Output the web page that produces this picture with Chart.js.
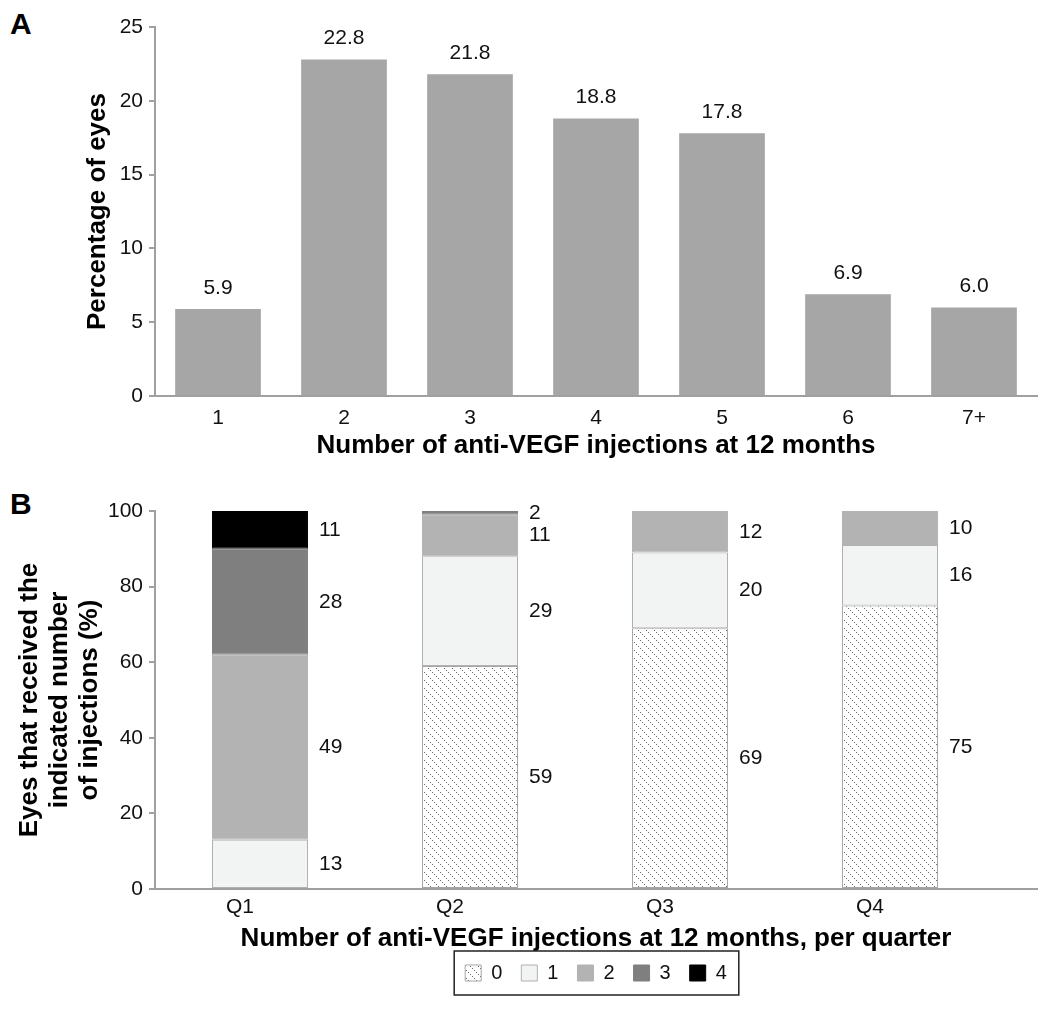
<!DOCTYPE html>
<html>
<head>
<meta charset="utf-8">
<script src="https://cdn.jsdelivr.net/npm/chart.js@4.4.0/dist/chart.umd.min.js"></script>
<style>
  body { margin: 0; background: #fff; width: 1039px; height: 1011px; position: relative; overflow: hidden;
         font-family: "Liberation Sans", Arial, sans-serif; }
  .panneau { position: absolute; left: 10px; font-weight: bold; font-size: 30px; line-height: 1; color: #000; }
  #blocA { position: absolute; left: 0; top: 0; }
  #blocB { position: absolute; left: 0; top: 480px; }
</style>
</head>
<body>
<div class="panneau" style="top:9px">A</div>
<div class="panneau" style="top:489px">B</div>
<div id="blocA"><canvas id="chartA" width="1039" height="470"></canvas></div>
<div id="blocB"><canvas id="chartB" width="1039" height="531"></canvas></div>
<script>
// ── Données : panneau A ──
const INJECTIONS = ['1', '2', '3', '4', '5', '6', '7+'];
const PCT_YEUX = [5.9, 22.8, 21.8, 18.8, 17.8, 6.9, 6.0];
const TICKS_A = [0, 5, 10, 15, 20, 25];

// ── Données : panneau B (une série par nombre d'injections) ──
const TRIMESTRES = ['Q1', 'Q2', 'Q3', 'Q4'];
const INJ_0 = [0, 59, 69, 75];
const INJ_1 = [13, 29, 20, 16];
const INJ_2 = [49, 11, 12, 10];
const INJ_3 = [28, 2, 0, 0];
const INJ_4 = [11, 0, 0, 0];
const NOMS_SERIES = ['0', '1', '2', '3', '4'];
const TICKS_B = [0, 20, 40, 60, 80, 100];

const POLICE = '"Liberation Sans", Arial, sans-serif';
const GRIS_AXE = '#a0a0a0';
Chart.defaults.font.family = POLICE;
Chart.defaults.color = '#111';

// ── Motif hachuré pointillé pour la série "0" ──
function motifHachure(ctx) {
    const c = document.createElement('canvas');
    c.width = 8; c.height = 8;
    const g = c.getContext('2d');
    g.fillStyle = '#ffffff';
    g.fillRect(0, 0, 8, 8);
    g.fillStyle = '#666666';
    for (let i = 0; i < 8; i += 2) g.fillRect(i, i, 1, 1);
    return ctx.createPattern(c, 'repeat');
}

// ── Étiquettes au-dessus des barres (A) ──
const etiquettesA = {
    id: 'etiquettesA',
    afterDatasetsDraw(chart) {
        const ctx = chart.ctx;
        ctx.save();
        ctx.font = '21px ' + POLICE;
        ctx.fillStyle = '#111';
        ctx.textAlign = 'center';
        ctx.textBaseline = 'middle';
        chart.getDatasetMeta(0).data.forEach((bar, i) => {
            ctx.fillText(PCT_YEUX[i].toFixed(1), bar.x, bar.y - 21);
        });
        ctx.restore();
    }
};

// ── Étiquettes à droite des segments (B) ──
const etiquettesB = {
    id: 'etiquettesB',
    afterDatasetsDraw(chart) {
        const ctx = chart.ctx;
        const haut = chart.chartArea.top;
        ctx.save();
        ctx.font = '21px ' + POLICE;
        ctx.fillStyle = '#111';
        ctx.textAlign = 'left';
        ctx.textBaseline = 'middle';
        chart.data.datasets.forEach((ds, k) => {
            chart.getDatasetMeta(k).data.forEach((bar, i) => {
                const v = ds.data[i].y;
                if (!v) return;
                const y1 = Math.max(bar.y, haut);
                ctx.fillText(String(v), bar.x + bar.width / 2 + 11, (y1 + bar.base) / 2);
            });
        });
        ctx.restore();
    }
};

// ── Cadre autour de la légende (B) ──
const cadreLegende = {
    id: 'cadreLegende',
    afterDraw(chart) {
        const boites = chart.legend.legendHitBoxes;
        if (!boites || !boites.length) return;
        const gauche = boites[0].left - 11;
        const dernier = boites[boites.length - 1];
        const droite = dernier.left + dernier.width + 12;
        const milieu = boites[0].top + boites[0].height / 2;
        const ctx = chart.ctx;
        ctx.save();
        ctx.strokeStyle = '#222';
        ctx.lineWidth = 1.5;
        ctx.strokeRect(gauche, milieu - 22, droite - gauche, 44);
        ctx.restore();
    }
};

// ============================================
// Panneau A
// ============================================
new Chart(document.getElementById('chartA'), {
    type: 'bar',
    data: {
        labels: INJECTIONS,
        datasets: [{
            data: PCT_YEUX,
            backgroundColor: '#a6a6a6',
            categoryPercentage: 1,
            barPercentage: 0.68
        }]
    },
    options: {
        responsive: false,
        animation: false,
        layout: { padding: { top: 27, right: 2, bottom: 0, left: 0 } },
        plugins: { legend: { display: false }, tooltip: { enabled: false } },
        scales: {
            x: {
                grid: { display: false, drawTicks: false },
                border: { color: GRIS_AXE, width: 2 },
                ticks: { padding: 10, font: { size: 21 } },
                afterFit: s => { s.height = 74; },
                title: {
                    display: true,
                    text: 'Number of anti-VEGF injections at 12 months',
                    color: '#000',
                    font: { size: 26, weight: 'bold', lineHeight: 1 },
                    padding: { top: 0, bottom: 11 }
                }
            },
            y: {
                min: 0, max: 25,
                afterBuildTicks: s => { s.ticks = TICKS_A.map(v => ({ value: v })); },
                grid: { drawOnChartArea: false, tickLength: 6, color: GRIS_AXE, lineWidth: 2 },
                border: { color: GRIS_AXE, width: 2 },
                ticks: { padding: 6, font: { size: 21 } },
                afterFit: s => { s.width = 155; },
                title: {
                    display: true,
                    text: 'Percentage of eyes',
                    color: '#000',
                    font: { size: 26, weight: 'bold', lineHeight: 1.2 },
                    padding: { top: 82 }
                }
            }
        }
    },
    plugins: [etiquettesA]
});

// ============================================
// Panneau B
// ============================================
const canvasB = document.getElementById('chartB');
const SERIES = [INJ_0, INJ_1, INJ_2, INJ_3, INJ_4];
const REMPLISSAGES = [motifHachure(canvasB.getContext('2d')), '#f2f3f3', '#b3b3b3', '#7f7f7f', '#000000'];
const CONTOURS = ['#a6a6a6', '#b0b0b0', '#b3b3b3', '#7f7f7f', '#000000'];

new Chart(canvasB, {
    type: 'bar',
    data: {
        datasets: SERIES.map((serie, k) => ({
            label: NOMS_SERIES[k],
            data: TRIMESTRES.map((_, i) => ({ x: i + 1, y: serie[i] })),
            backgroundColor: REMPLISSAGES[k],
            borderColor: CONTOURS[k],
            borderWidth: 1,
            borderSkipped: false,
            categoryPercentage: 1,
            barPercentage: 0.457,
            clip: 0
        }))
    },
    options: {
        responsive: false,
        animation: false,
        layout: { padding: { top: 31, right: 2, bottom: 18, left: 0 } },
        plugins: {
            tooltip: { enabled: false },
            legend: {
                position: 'bottom',
                fullSize: false,
                labels: { boxWidth: 16, boxHeight: 16, padding: 19, font: { size: 20 }, color: '#111' }
            }
        },
        scales: {
            x: {
                type: 'linear',
                offset: false,
                min: 0.5, max: 4.7,
                stacked: true,
                afterBuildTicks: s => { s.ticks = TRIMESTRES.map((_, i) => ({ value: i + 1 })); },
                grid: { display: false, drawTicks: false },
                border: { color: GRIS_AXE, width: 2 },
                ticks: {
                    autoSkip: false,
                    padding: 6,
                    labelOffset: -20,
                    font: { size: 21 },
                    callback: v => TRIMESTRES[v - 1]
                },
                afterFit: s => { s.height = 55; },
                title: {
                    display: true,
                    text: 'Number of anti-VEGF injections at 12 months, per quarter',
                    color: '#000',
                    font: { size: 26, weight: 'bold', lineHeight: 1 },
                    padding: { top: 0, bottom: -8 }
                }
            },
            y: {
                stacked: true,
                min: 0, max: 100,
                afterBuildTicks: s => { s.ticks = TICKS_B.map(v => ({ value: v })); },
                grid: { drawOnChartArea: false, tickLength: 6, color: GRIS_AXE, lineWidth: 2 },
                border: { color: GRIS_AXE, width: 2 },
                ticks: { padding: 6, font: { size: 21 } },
                afterFit: s => { s.width = 155; },
                title: {
                    display: true,
                    text: ['Eyes that received the', 'indicated number', 'of injections (%)'],
                    color: '#000',
                    font: { size: 26, weight: 'bold', lineHeight: 1.15 },
                    padding: { top: 15 }
                }
            }
        }
    },
    plugins: [etiquettesB, cadreLegende]
});
</script>
</body>
</html>
